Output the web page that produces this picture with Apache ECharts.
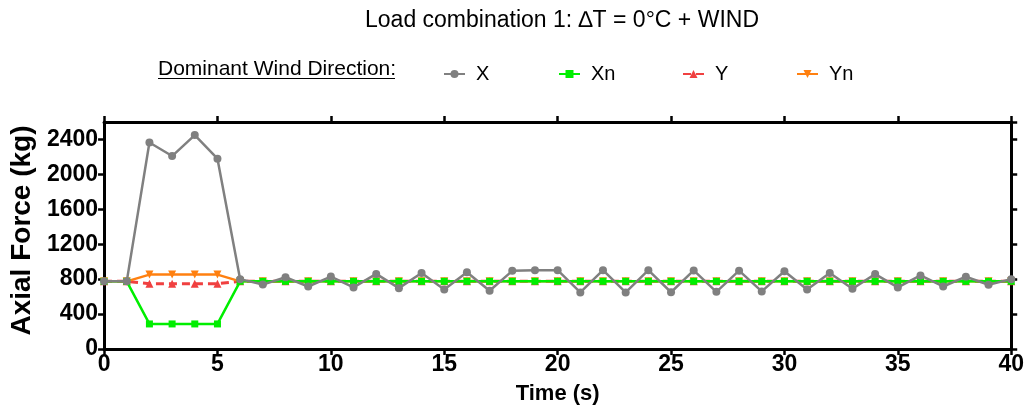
<!DOCTYPE html>
<html><head><meta charset="utf-8">
<script src="https://cdn.jsdelivr.net/npm/echarts@6/dist/echarts.min.js"></script>
<style>html,body{margin:0;padding:0;background:#fff}#c{width:1027px;height:413px}</style>
</head><body><div id="c"></div>
<script>
const time = [0,1,2,3,4,5,6,7,8,9,10,11,12,13,14,15,16,17,18,19,20,21,22,23,24,25,26,27,28,29,30,31,32,33,34,35,36,37,38,39,40];
const xVals = [775,775,2365,2210,2450,2180,800,738,822,716,830,705,860,697,870,682,880,667,895,903,903,648,903,648,903,650,900,655,897,660,890,682,870,690,858,705,843,716,828,736,800];
const xnVals = [775,775,287,287,287,287,775,775,775,775,775,775,775,775,775,775,775,775,775,775,775,775,775,775,775,775,775,775,775,775,775,775,775,775,775,775,775,775,775,775,775];
const yVals = [775,775,748,748,748,748,775,775,775,775,775,775,775,775,775,775,775,775,775,775,775,775,775,775,775,775,775,775,775,775,775,775,775,775,775,775,775,775,775,775,775];
const ynVals = [775,775,852,852,852,852,775,775,775,775,775,775,775,775,775,775,775,775,775,775,775,775,775,775,775,775,775,775,775,775,775,775,775,775,775,775,775,775,775,775,775];
const seriesNames = ['X','Xn','Y','Yn'];
const titleText = 'Load combination 1: \u2206T = 0\u00B0C + WIND';
const legendTitle = 'Dominant Wind Direction:';

const pairs = v => time.map((t,i)=>[t,v[i]]);
const F = 'Liberation Sans, Arial, sans-serif';
const chart = echarts.init(document.getElementById('c'), null, {renderer:'canvas'});
const axisLine = {show:true, onZero:false, lineStyle:{color:'#000', width:3}};
const tick = {show:true, inside:false, length:6, lineStyle:{color:'#000', width:2.5}};
const legendBase = {top:59, itemWidth:21, itemHeight:10, textStyle:{fontFamily:F, fontSize:20, color:'#000', padding:[0,0,0,6]}, selectedMode:false};
chart.setOption({
  animation:false,
  title:{text:titleText, left:557, textAlign:'center', top:4, textStyle:{fontFamily:F, fontSize:23, fontWeight:'normal', color:'#000'}},
  legend:[
    Object.assign({data:[seriesNames[0]], left:438}, legendBase),
    Object.assign({data:[seriesNames[1]], left:553}, legendBase),
    Object.assign({data:[seriesNames[2]], left:677}, legendBase),
    Object.assign({data:[seriesNames[3]], left:791}, legendBase)
  ],
  graphic:[
    {type:'text', left:158, top:59, style:{text:legendTitle, font:'21px '+F, fill:'#000'}},
    {type:'line', shape:{x1:158, y1:78.5, x2:395, y2:78.5}, style:{stroke:'#000', lineWidth:1.2}}
  ],
  grid:{left:103, right:14, top:122, bottom:64},
  xAxis:[
    {type:'value', min:0, max:40, interval:5, position:'bottom', splitLine:{show:false}, axisLine, axisTick:tick,
     axisLabel:{fontFamily:F, fontSize:23, fontWeight:'bold', color:'#000', margin:4},
     name:'Time (s)', nameLocation:'middle', nameGap:34, nameTextStyle:{fontFamily:F, fontSize:22, fontWeight:'bold', color:'#000'}},
    {type:'value', min:0, max:40, interval:5, position:'top', splitLine:{show:false}, axisLine, axisTick:tick, axisLabel:{show:false}}
  ],
  yAxis:[
    {type:'value', min:0, max:2600, interval:400, position:'left', splitLine:{show:false}, axisLine, axisTick:tick,
     axisLabel:{fontFamily:F, fontSize:23, fontWeight:'bold', color:'#000', margin:6, showMaxLabel:false, formatter:v=>String(v)},
     name:'Axial Force (kg)', nameLocation:'middle', nameGap:68, nameTextStyle:{fontFamily:F, fontSize:28, fontWeight:'bold', color:'#000', padding:[0,0,0,10]}},
    {type:'value', min:0, max:2600, interval:400, position:'right', splitLine:{show:false}, axisLine, axisTick:tick, axisLabel:{show:false}}
  ],
  series:[
    {name:'Y', type:'line', data:pairs(yVals), symbol:'triangle', symbolSize:8, itemStyle:{color:'#f04040'}, lineStyle:{color:'#f04040', width:3, type:[8,5]}, z:2},
    {name:'Yn', type:'line', data:pairs(ynVals), symbol:'triangle', symbolRotate:180, symbolSize:8, itemStyle:{color:'#ff8010'}, lineStyle:{color:'#ff8010', width:2.5}, z:3},
    {name:'Xn', type:'line', data:pairs(xnVals), symbol:'rect', symbolSize:7, itemStyle:{color:'#00ee00'}, lineStyle:{color:'#00ee00', width:2.5}, z:4},
    {name:'X', type:'line', data:pairs(xVals), symbol:'circle', symbolSize:8, itemStyle:{color:'#808080'}, lineStyle:{color:'#808080', width:2.5}, z:5}
  ]
});
</script></body></html>
